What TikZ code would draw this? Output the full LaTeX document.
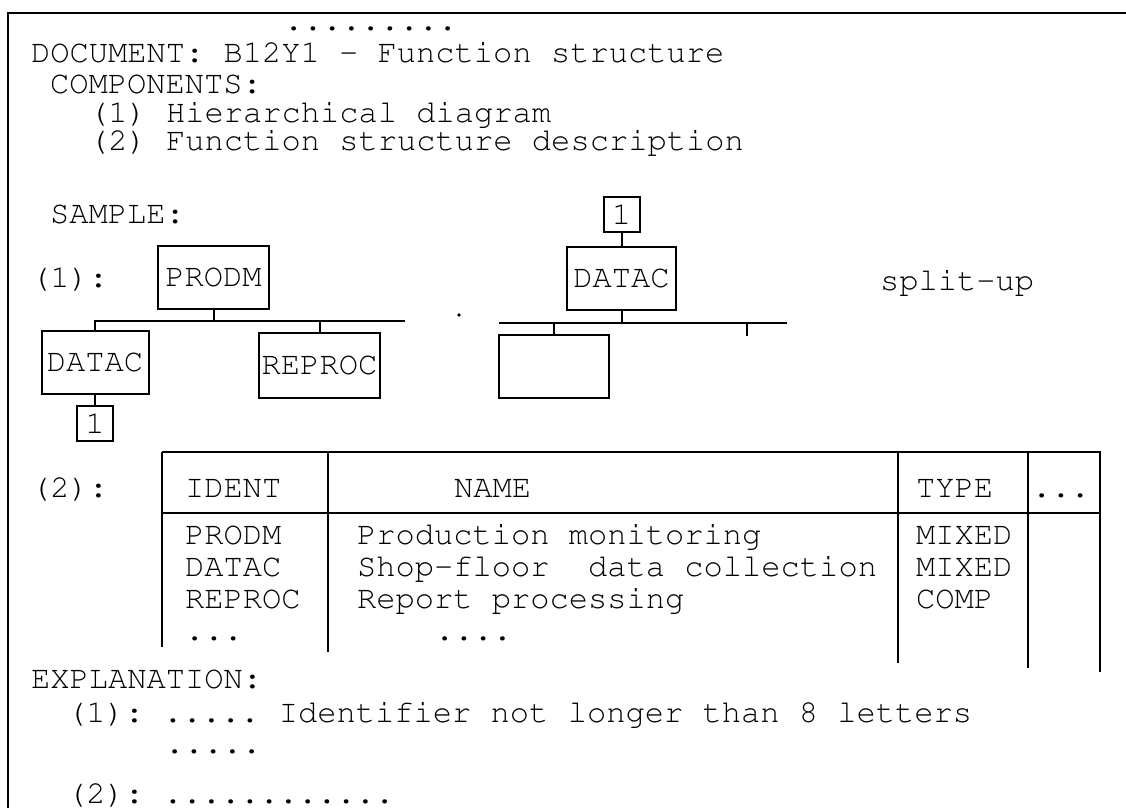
\documentclass[tikz,border=0pt]{standalone}
\usepackage[T1]{fontenc}
\usepackage{courier}
\usepackage{tikz}

\newcommand{\typer}{\ttfamily\fontsize{32.1}{38}\selectfont\frenchspacing}

\begin{document}
\begin{tikzpicture}[
  x=1pt, y=-1pt, line width=2pt,
  txt/.style={font=\typer, anchor=base west, inner sep=0pt},
  box/.style={draw, inner sep=0pt, font=\typer},
  refbox/.style={box, minimum width=36pt, minimum height=35pt}
]
  \useasboundingbox (0,0) rectangle (1126,808);

  %% Frame
  \coordinate (frameR) at (1126,13);
  \coordinate (frameB) at (8,808);
  \draw[line width=2.6pt] (frameR) -| (frameB);

  %% Heading
  \node[txt] (dots) at (283,31) {.........};
  \node[txt] (doc) at (30,63) {DOCUMENT: B12Y1 - Function structure};
  \node[txt] (comp) at (49,93) {COMPONENTS:};
  \node[txt] (comp1) at (88,122) {(1) Hierarchical diagram};
  \node[txt] (comp2) at (88,150) {(2) Function structure description};

  %% Sample (1): hierarchy
  \node[txt] (sample) at (49,223) {SAMPLE:};
  \node[txt] (lab1) at (30,287) {(1):};
  \node[box, minimum width=111pt, minimum height=63pt] (prodm) at (213.5,277.5) {PRODM};
  \node[box, minimum width=107pt, minimum height=63pt] (datacA) at (95,362.5) {DATAC};
  \node[box, minimum width=121pt, minimum height=65pt] (reproc) at (319.5,365.5) {REPROC};
  \node[refbox] (refA) at (95,423.5) {1};
  \coordinate (busA) at (405,321);
  \draw (datacA.north) |- (busA);
  \draw (prodm.south) -- (prodm.south |- busA);
  \draw (reproc.north) -- (reproc.north |- busA);
  \draw (datacA.south) -- (refA.north);

  %% Split-up of DATAC
  \node[refbox] (refB) at (621.5,214.5) {1};
  \node[box, minimum width=109pt, minimum height=63pt] (datacB) at (621.5,278.5) {DATAC};
  \node[box, minimum width=110pt, minimum height=63pt] (blank) at (554,366.5) {};
  \node[circle, fill, inner sep=1.3pt] (speck) at (459,315) {};
  \coordinate (busBL) at (499,323);
  \coordinate (busB) at (787,323);
  \coordinate (tick) at (747,336);
  \draw (refB.south) -- (datacB.north);
  \draw (busBL) -- (busB);
  \draw (datacB.south) -- (datacB.south |- busB);
  \draw (blank.north) -- (blank.north |- busB);
  \draw (tick) -- (tick |- busB);
  \node[txt] (split) at (879,290) {split-up};

  %% Sample (2): description table
  \node[txt] (lab2) at (30,497) {(2):};
  \draw[line width=2.2pt] (162,452) -- (1101,452);
  \draw[line width=2.2pt] (162,513) -- (1101,513);
  \draw[line width=2.2pt] (162,452) -- (162,647);
  \draw[line width=2.2pt] (328,452) -- (328,652);
  \draw[line width=2.2pt] (898,452) -- (898,663);
  \draw[line width=2.2pt] (1028,452) -- (1028,668);
  \draw[line width=2.2pt] (1100,452) -- (1100,672);

  \node[txt] (hIdent) at (184,497) {IDENT};
  \node[txt] (hName) at (453,497) {NAME};
  \node[txt] (hType) at (915,497) {TYPE};
  \node[txt] (hMore) at (1031,497) {...};

  \node[txt] (idA) at (184,544) {PRODM};
  \node[txt] (nmA) at (356,544) {Production monitoring};
  \node[txt] (tyA) at (915,544) {MIXED};
  \node[txt] (idB) at (184,576) {DATAC};
  \node[txt] (nmB) at (356,576) {Shop-floor\ \ data collection};
  \node[txt] (tyB) at (915,576) {MIXED};
  \node[txt] (idC) at (184,608) {REPROC};
  \node[txt] (nmC) at (356,608) {Report processing};
  \node[txt] (tyC) at (915,608) {COMP};
  \node[txt] (idD) at (184,640) {...};
  \node[txt] (nmD) at (434,640) {....};

  %% Explanation
  \node[txt] (expl) at (30,688) {EXPLANATION:};
  \node[txt] (expl1) at (66,722) {(1): ..... Identifier not longer than 8 letters};
  \node[txt] (expl1b) at (164,753) {.....};
  \node[txt] (expl2) at (66,803) {(2): ............};
\end{tikzpicture}
\end{document}
